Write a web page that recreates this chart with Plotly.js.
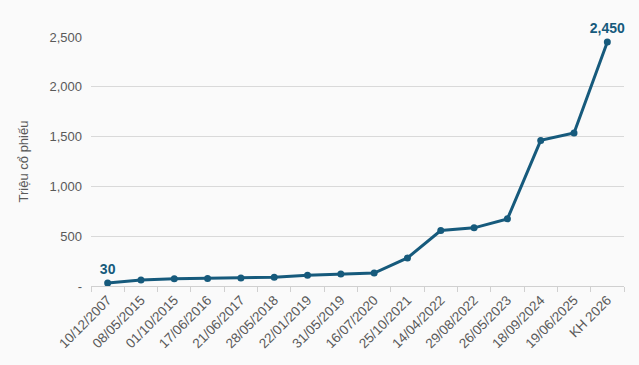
<!DOCTYPE html>
<html>
<head>
<meta charset="utf-8">
<script src="https://cdn.plot.ly/plotly-3.0.1.min.js"></script>
<style>html,body{margin:0;padding:0;background:#fafafa;}#chart{width:639px;height:365px;}</style>
</head>
<body>
<div id="chart"></div>
<script>
const categories = ["10/12/2007","08/05/2015","01/10/2015","17/06/2016","21/06/2017","28/05/2018","22/01/2019","31/05/2019","16/07/2020","25/10/2021","14/04/2022","29/08/2022","26/05/2023","18/09/2024","19/06/2025","KH 2026"];
const shares = [30, 60, 72, 75, 80, 88, 107, 120, 130, 282, 557, 584, 674, 1462, 1536, 2450];
const labelText = ["30","","","","","","","","","","","","","","","2,450"];
const yTickVals = [0, 500, 1000, 1500, 2000, 2500];
const yTickText = ["-", "500", "1,000", "1,500", "2,000", "2,500"];

const color = "#165a7c";
Plotly.newPlot("chart", [{
  x: categories,
  y: shares,
  type: "scatter",
  mode: "lines+markers+text",
  text: labelText,
  textposition: "top center",
  textfont: {family: "Liberation Sans, Arial, sans-serif", size: 14, color: color, weight: "bold"},
  line: {color: color, width: 3},
  marker: {color: color, size: 7},
  cliponaxis: false,
  hoverinfo: "none"
}], {
  width: 639, height: 365,
  paper_bgcolor: "#fafafa",
  plot_bgcolor: "#fafafa",
  margin: {l: 91, r: 15, t: 37, b: 79},
  showlegend: false,
  font: {family: "Liberation Sans, Arial, sans-serif", color: "#595959"},
  xaxis: {
    type: "category",
    range: [-0.5, 15.5],
    tickangle: -45,
    tickfont: {size: 13.5, color: "#595959"},
    showgrid: false,
    showline: true,
    linecolor: "#d0d0d0",
    linewidth: 1,
    ticks: "outside",
    tickson: "boundaries",
    ticklen: 5,
    tickcolor: "#d0d0d0",
    zeroline: false,
    automargin: false
  },
  yaxis: {
    range: [0, 2500],
    tickvals: yTickVals,
    ticktext: yTickText,
    tickfont: {size: 13, color: "#595959"},
    showgrid: true,
    gridcolor: "#d9d9d9",
    gridwidth: 1,
    zeroline: false,
    showline: false,
    ticks: "",
    ticklabelstandoff: 8,
    title: {text: "Triệu cổ phiếu", font: {size: 13, color: "#595959"}, standoff: 17},
    automargin: false
  }
}, {staticPlot: true});
</script>
</body>
</html>
